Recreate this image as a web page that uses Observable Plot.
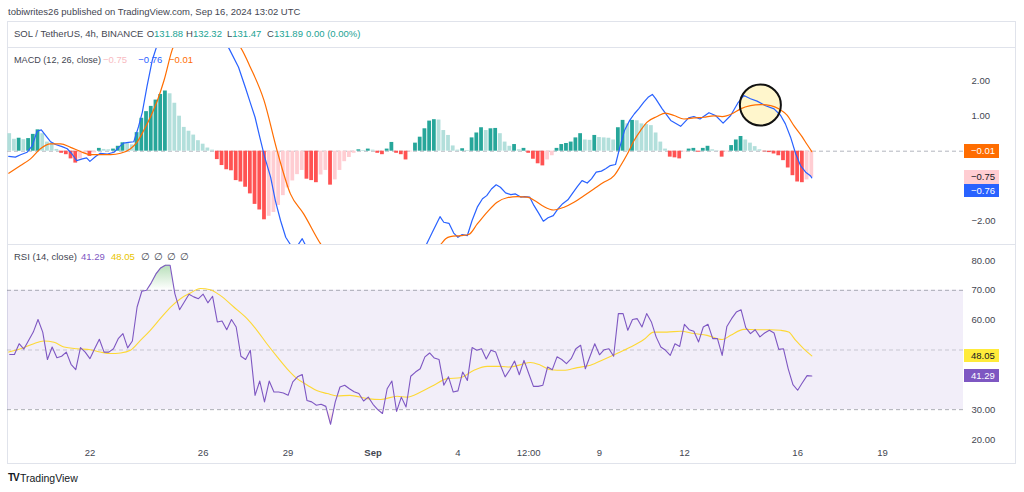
<!DOCTYPE html>
<html>
<head>
<meta charset="utf-8">
<script src="https://cdn.jsdelivr.net/npm/d3@7"></script>
<script src="https://cdn.jsdelivr.net/npm/@observablehq/plot@0.6"></script>
<style>
  html,body{margin:0;padding:0;background:#fff;}
  #root{position:relative;width:1024px;height:492px;overflow:hidden;background:#fff;font-family:"Liberation Sans",Arial,sans-serif;}
  .t{position:absolute;white-space:nowrap;font-size:9.5px;line-height:12px;height:12px;color:#434651;}
  .sep{position:absolute;background:#e0e3eb;}
  .box{position:absolute;height:13px;line-height:13px;font-size:9.5px;padding-left:7px;box-sizing:border-box;white-space:nowrap;}
  .pane{position:absolute;}
</style>
</head>
<body>
<div id="root"></div>
<script>
// ---------------- DATA ----------------
const anchorISO = "2024-08-22T00:00:00Z";   // candle index k = 0
const candleHours = 4;
const firstCandle = -17;                     // k of first visible candle
const xDomainISO = ["2024-08-19T02:08:00Z", "2024-09-21T20:36:00Z"];

// MACD histogram, one value per 4h candle, k = -17 .. 153
const histogram = [
  0.50, 0.34, 0.37, 0.33, 0.36, 0.48, 0.61, 0.50, 0.26, 0.24,
  0.05, -0.06, -0.10, -0.22, -0.34, -0.22, -0.06, -0.15, -0.05, 0.08,
  0.05, 0.04, 0.06, 0.14, 0.24, 0.22, 0.18, 0.53, 0.94, 1.13,
  1.28, 1.46, 1.62, 1.72, 1.64, 1.37, 1.00, 0.68, 0.57, 0.46,
  0.30, 0.20, 0.09, 0.03, -0.24, -0.41, -0.53, -0.56, -0.84, -0.88,
  -1.03, -1.22, -1.52, -1.68, -1.96, -1.86, -1.75, -1.55, -1.27, -1.05,
  -0.85, -0.67, -0.55, -0.80, -0.84, -0.90, -0.68, -0.55, -0.97, -0.82,
  -0.55, -0.30, -0.18, -0.06, 0.04, 0.02, 0.06, 0.03, -0.06, -0.10,
  0.06, 0.25, -0.06, -0.10, -0.25, -0.02, 0.23, 0.40, 0.64, 0.86,
  0.90, 0.89, 0.59, 0.45, 0.15, 0.03, 0.07, 0.02, 0.38, 0.52,
  0.67, 0.59, 0.64, 0.65, 0.50, 0.26, 0.14, 0.19, 0.04, 0.08,
  -0.06, -0.23, -0.36, -0.42, -0.25, -0.13, 0.08, 0.19, 0.22, 0.26,
  0.38, 0.50, 0.32, 0.31, 0.45, 0.39, 0.38, 0.37, 0.32, 0.67,
  0.88, 0.78, 0.88, 0.87, 0.78, 0.76, 0.73, 0.52, 0.26, 0.06,
  -0.17, -0.19, -0.22, -0.02, 0.06, 0.08, -0.03, 0.08, 0.14, 0.04,
  0.01, -0.17, -0.02, 0.16, 0.32, 0.42, 0.32, 0.23, 0.13, 0.04,
  -0.02, -0.04, -0.08, -0.13, -0.27, -0.48, -0.70, -0.88, -0.90, -0.82,
  -0.75
];

// MACD line (12, 26) vertices [k, value]; values beyond the pane are estimates
const macdPoints = [
  [-17.2,-0.15],[-15.8,-0.17],[-14.7,-0.10],[-13.3,-0.03],[-12.2,0.16],[-11.2,0.57],[-10.3,0.61],
  [-9.4,0.45],[-8.4,0.28],[-7.3,0.19],[-5.9,0.13],[-4.8,0.07],[-3.8,-0.08],[-2.8,-0.27],[-1.6,-0.22],
  [-0.7,-0.19],[0,-0.29],[1.2,-0.15],[2.2,-0.06],[3.7,-0.08],[5.1,-0.03],[6.1,0.11],[7.1,0.23],
  [8.2,0.25],[9.3,0.27],[10.3,0.70],[11.1,1.11],[12.1,1.85],[13.2,2.59],[14.1,2.97],
  [17,3.9],[22,4.0],[26,3.5],[29.5,2.93],[31.5,2.40],[33,1.80],[34,1.38],[35,0.97],[36,0.40],
  [37,-0.15],[38.3,-0.74],[39.3,-1.41],[40.4,-1.98],[41.5,-2.46],[42.5,-2.67],[44,-2.70],[45,-2.50],
  [45.7,-2.69],[50,-3.4],[60,-3.5],[68,-3.1],
  [71.3,-2.67],[72.6,-2.31],[74.2,-1.87],[75.0,-2.03],[76.1,-2.06],[77.1,-2.34],[78.0,-2.46],
  [78.9,-2.38],[80.0,-2.41],[81.0,-1.98],[82.1,-1.60],[83.2,-1.36],[84.1,-1.27],[85.1,-1.08],
  [86.1,-0.96],[87.0,-1.03],[88.1,-1.19],[89.2,-1.24],[90.2,-1.22],[91.3,-1.31],[92.1,-1.30],
  [93.2,-1.31],[94.1,-1.55],[95.2,-1.79],[96.1,-2.00],[97.1,-1.90],[98.2,-1.84],[99.2,-1.65],
  [100.2,-1.50],[101.3,-1.39],[102.2,-1.22],[103.3,-1.01],[104.3,-0.84],[105.4,-0.91],[106.3,-0.79],
  [107.3,-0.60],[108.4,-0.57],[109.3,-0.50],[110.3,-0.41],[111.4,-0.38],[112.3,0.11],[113.3,0.59],
  [114.4,0.88],[115.4,1.07],[116.3,1.21],[117.4,1.40],[118.3,1.54],[119.2,1.62],[119.9,1.50],
  [121.3,1.21],[123.1,0.88],[125.2,0.71],[126.9,0.95],[128.0,0.99],[129.3,0.92],[131.2,1.10],
  [132.6,1.02],[134.2,0.80],[135.8,1.02],[137.3,1.37],[138.6,1.59],[140.0,1.50],[141.4,1.43],
  [143.2,1.30],[145.0,1.21],[146.4,1.02],[147.4,0.78],[148.5,0.40],[149.6,-0.08],[150.6,-0.41],
  [151.7,-0.60],[152.7,-0.70],[153,-0.76]
];

// Signal line (9) vertices [k, value]; values beyond the pane are estimates
const signalPoints = [
  [-17.2,-0.63],[-14.7,-0.41],[-12.6,-0.22],[-10.5,0.07],[-8.4,0.21],[-6.2,0.21],[-4.1,0.11],
  [-2.0,-0.01],[0.1,-0.10],[2.2,-0.10],[4.4,-0.10],[6.5,-0.06],[8.6,0.07],[10.0,0.26],[11.4,0.59],
  [12.8,0.97],[14.3,1.45],[15.7,2.02],[17.4,2.88],[20,3.5],[25,3.7],[29,3.3],[31.9,2.97],[34.0,2.40],
  [36.9,1.45],[39.7,0.0],[42.5,-1.22],[45.3,-1.79],[48.9,-2.65],[55,-3.6],[65,-3.4],[72,-2.9],
  [74.3,-2.67],[75.4,-2.50],[76.4,-2.44],[78.6,-2.41],[80.3,-2.38],[82.1,-2.08],[84.2,-1.74],
  [86.3,-1.46],[88.4,-1.33],[90.6,-1.30],[92.7,-1.31],[94.5,-1.43],[96.2,-1.58],[98.3,-1.68],
  [100.5,-1.60],[102.6,-1.46],[104.7,-1.27],[106.8,-1.08],[108.9,-0.89],[111.1,-0.70],[112.5,-0.41],
  [113.9,-0.08],[115.3,0.30],[116.7,0.59],[118.1,0.83],[120.2,0.99],[122.0,1.09],[123.8,1.02],
  [125.9,0.92],[128.0,0.95],[130.1,0.97],[132.2,1.01],[134.0,0.99],[136.1,1.07],[137.9,1.21],
  [140.0,1.30],[142.1,1.33],[144.3,1.30],[146.0,1.21],[147.8,1.02],[149.2,0.73],[151.0,0.40],
  [152.0,0.19],[153,-0.01]
];

// RSI (14), one value per candle, k = -17 .. 153
const rsiValues = [
  48.5, 48.5, 52.1, 50.3, 53.2, 56.0, 60.2, 56.0, 46.8, 51.0,
  47.4, 47.9, 49.3, 45.2, 43.4, 50.8, 49.3, 47.1, 50.4, 53.6,
  49.3, 49.3, 50.4, 53.8, 55.5, 50.7, 53.0, 64.4, 69.7, 70.0,
  72.5, 75.5, 77.5, 78.4, 78.4, 68.9, 63.5, 66.1, 68.7, 67.8,
  67.2, 68.7, 65.8, 68.0, 59.4, 59.7, 56.8, 60.2, 57.7, 47.9,
  46.8, 49.9, 34.8, 39.6, 32.6, 39.6, 35.9, 35.9, 35.6, 34.8,
  39.3, 41.0, 41.8, 33.1, 32.6, 31.5, 31.8, 31.1, 25.1, 32.6,
  37.6, 38.2, 37.0, 36.0, 35.4, 32.9, 34.2, 31.8, 30.0, 28.7,
  37.0, 39.6, 29.4, 34.2, 30.9, 41.2, 42.6, 43.7, 47.7, 49.0,
  47.3, 46.8, 38.2, 41.0, 35.9, 36.3, 42.6, 39.8, 50.8, 49.9,
  50.4, 47.0, 49.9, 49.3, 44.9, 41.0, 43.4, 46.3, 41.7, 46.5,
  42.1, 37.8, 37.8, 38.2, 44.3, 43.4, 47.7, 46.8, 45.4, 47.1,
  50.4, 51.6, 43.7, 47.9, 52.1, 48.4, 50.1, 50.4, 47.9, 62.2,
  62.2, 56.6, 60.2, 60.5, 57.7, 62.2, 59.4, 54.4, 51.0, 49.9,
  48.2, 52.1, 51.2, 58.6, 56.8, 56.3, 52.7, 57.7, 58.6, 53.8,
  53.8, 48.2, 57.9, 60.5, 62.7, 63.5, 57.5, 55.5, 56.8, 54.4,
  55.7, 56.6, 55.7, 50.2, 50.4, 43.7, 38.4, 36.5, 39.0, 41.4,
  41.29
];

// RSI-based moving average vertices [k, value]
const rsiMaPoints = [
  [-17.2,49.3],[-14.7,50.4],[-11.9,52.1],[-9.8,53.0],[-7.6,52.6],[-5.5,51.0],[-2.7,50.4],[0.1,50.1],
  [2.2,49.3],[4.4,48.8],[6.5,49.0],[8.6,49.9],[10.7,53.2],[12.8,56.6],[14.9,60.5],[17.1,64.4],
  [19.2,67.2],[21.3,69.1],[23.4,70.6],[25.5,70.2],[27.6,68.3],[30.5,64.4],[33.3,60.5],[35.4,56.6],
  [37.5,52.1],[39.7,47.7],[41.8,43.7],[43.9,40.4],[46.1,38.2],[48.2,36.3],[50.3,35.4],[52.4,34.6],
  [55.1,34.8],[58.8,33.7],[61.6,33.4],[65.1,34.5],[67.2,34.2],[70.1,35.9],[72.9,38.2],[75.7,40.4],
  [78.5,40.7],[81.4,43.2],[84.2,44.5],[87.0,44.5],[89.1,44.3],[91.3,45.1],[93.4,45.8],[95.5,44.9],
  [97.6,43.4],[100.4,43.2],[103.3,44.1],[106.1,44.9],[108.9,46.8],[111.7,48.8],[114.6,51.0],
  [117.4,53.5],[119.5,56.0],[122.3,56.0],[125.2,56.3],[128.0,55.5],[130.8,54.9],[134.0,53.5],
  [135.8,54.9],[138.6,56.9],[141.4,56.8],[144.3,56.8],[146.4,56.6],[148.1,56.0],[149.6,53.2],
  [151.3,50.4],[153,48.05]
];

// annotation circle on the MACD pane [k, value]
const circled = [[142.1, 1.32]];

const rsiBand = [30, 70];
const rsiLevels = [70, 50, 30];
const macdTicks = [2, 1, -2];
// 40.00 and 50.00 sit under the RSI / MA value boxes on the reference
const rsiTicks = [20, 30, 60, 70, 80];
const xTickISO = ["2024-08-22T00:00:00Z","2024-08-26T00:00:00Z","2024-08-29T00:00:00Z","2024-09-04T00:00:00Z",
                  "2024-09-06T12:00:00Z","2024-09-09T00:00:00Z","2024-09-12T00:00:00Z","2024-09-16T00:00:00Z","2024-09-19T00:00:00Z"];
const xTickLabels = ["22","26","29","4","12:00","9","12","16","19"];
const monthTickISO = ["2024-09-01T00:00:00Z"];
const monthTickLabels = ["Sep"];

const headerTitle = "tobiwrites26 published on TradingView.com, Sep 16, 2024 13:02 UTC";
const symbolText = "SOL / TetherUS, 4h, BINANCE";
const ohlcLabels = ["O", "H", "L", "C"];
const ohlcValues = ["131.88", "132.32", "131.47", "131.89"];
const changeText = "0.00 (0.00%)";
const macdTitle = "MACD (12, 26, close)";
const rsiTitle = "RSI (14, close)";
const rsiExtras = ["∅", "∅", "∅", "∅"];

// ---------------- STYLE ----------------
const COL = {
  up: "#26A69A", upFade: "#B2DFDB", downFade: "#FFCDD2", down: "#FF5252",
  macd: "#2962FF", signal: "#FF6D00", rsi: "#7E57C2", ma: "#FDD835",
  green: "#22A394", text: "#434651", grid: "#e0e3eb"
};
const fmt2 = d3.format(".2f");

// ---------------- BUILD ----------------
const root = document.getElementById("root");
const t0 = Date.parse(anchorISO);
const tk = k => new Date(t0 + k * candleHours * 3600e3);
const xDomain = xDomainISO.map(s => new Date(s));

const histData = histogram.map((v, i) => {
  const k = firstCandle + i;
  const rising = i > 0 && v > histogram[i - 1];
  return { x1: tk(k - 0.4), x2: tk(k + 0.4), v,
           c: v >= 0 ? (rising ? COL.up : COL.upFade) : (rising ? COL.downFade : COL.down) };
});
const toPts = arr => arr.map(([k, v]) => ({ t: tk(k), v }));
const macdData = toPts(macdPoints);
const signalData = toPts(signalPoints);
const circData = toPts(circled);
const rsiData = rsiValues.map((v, i) => ({ t: tk(firstCandle + i), v }));
const maData = toPts(rsiMaPoints);

const plotStyle = { fontFamily: "Liberation Sans, Arial, sans-serif", fontSize: "9.5px", color: COL.text, background: "transparent", overflow: "visible" };

// MACD pane
const macdPlot = Plot.plot({
  width: 1009, height: 196, marginTop: 0, marginBottom: 0, marginLeft: 0, marginRight: 53,
  x: { type: "utc", domain: xDomain, axis: null },
  y: { domain: [-2.666, 2.934] },
  color: { type: "identity" },
  style: plotStyle,
  marks: [
    Plot.ruleY([0], { stroke: "#B2B5BE", strokeDasharray: "4,3", strokeWidth: 1 }),
    Plot.rect(histData, { x1: "x1", x2: "x2", y1: 0, y2: "v", fill: "c" }),
    Plot.dot(circData, { x: "t", y: "v", r: 20.5, fill: "#FFF6CC", stroke: "none" }),
    Plot.line(macdData, { x: "t", y: "v", stroke: COL.macd, strokeWidth: 1.2, clip: true }),
    Plot.line(signalData, { x: "t", y: "v", stroke: COL.signal, strokeWidth: 1.2, curve: "monotone-x", clip: true }),
    Plot.dot(circData, { x: "t", y: "v", r: 20.5, fill: "none", stroke: "#111", strokeWidth: 2 }),
    Plot.axisY({ anchor: "right", ticks: macdTicks, tickSize: 0, tickPadding: 8, tickFormat: fmt2, label: null })
  ]
});

// RSI pane
const labelMap = new Map(xTickISO.map((s, i) => [Date.parse(s), xTickLabels[i]]));
const monthMap = new Map(monthTickISO.map((s, i) => [Date.parse(s), monthTickLabels[i]]));
const rsiPlot = Plot.plot({
  width: 1009, height: 220, marginTop: 0, marginBottom: 20, marginLeft: 0, marginRight: 53,
  x: { type: "utc", domain: xDomain },
  y: { domain: [18.32, 85.36] },
  style: plotStyle,
  marks: [
    Plot.areaY(xDomain, { x: d => d, y1: rsiBand[0], y2: rsiBand[1], fill: COL.rsi, fillOpacity: 0.1 }),
    Plot.ruleY([rsiLevels[1]], { stroke: "#787B86", strokeOpacity: 0.35, strokeDasharray: "4,3" }),
    Plot.ruleY([rsiLevels[0], rsiLevels[2]], { stroke: "#787B86", strokeOpacity: 0.6, strokeDasharray: "4,3" }),
    Plot.areaY(rsiData, { x: "t", y1: rsiLevels[0], y2: d => Math.max(d.v, rsiLevels[0]), fill: "url(#obGrad)" }),
    Plot.areaY(rsiData, { x: "t", y1: d => Math.min(d.v, rsiLevels[2]), y2: rsiLevels[2], fill: "url(#osGrad)" }),
    Plot.line(maData, { x: "t", y: "v", stroke: COL.ma, strokeWidth: 1.1, curve: "monotone-x" }),
    Plot.line(rsiData, { x: "t", y: "v", stroke: COL.rsi, strokeWidth: 1.1 }),
    Plot.axisY({ anchor: "right", ticks: rsiTicks, tickSize: 0, tickPadding: 8, tickFormat: fmt2, label: null }),
    Plot.axisX({ ticks: xTickISO.map(s => new Date(s)), tickFormat: d => labelMap.get(+d), tickSize: 0, tickPadding: 5, label: null }),
    Plot.axisX({ ticks: monthTickISO.map(s => new Date(s)), tickFormat: d => monthMap.get(+d), tickSize: 0, tickPadding: 5, fontWeight: "bold", label: null })
  ]
});

// gradients for the overbought / oversold fills
{
  const defs = d3.select(rsiPlot).insert("defs", ":first-child");
  const g1 = defs.append("linearGradient").attr("id", "obGrad").attr("x1", 0).attr("y1", 0).attr("x2", 0).attr("y2", 1);
  g1.append("stop").attr("offset", "0%").attr("stop-color", "#4CAF50").attr("stop-opacity", 0.4);
  g1.append("stop").attr("offset", "100%").attr("stop-color", "#4CAF50").attr("stop-opacity", 0);
  const g2 = defs.append("linearGradient").attr("id", "osGrad").attr("x1", 0).attr("y1", 1).attr("x2", 0).attr("y2", 0);
  g2.append("stop").attr("offset", "0%").attr("stop-color", "#FF5252").attr("stop-opacity", 0.3);
  g2.append("stop").attr("offset", "100%").attr("stop-color", "#FF5252").attr("stop-opacity", 0);
}

// ---------------- LAYOUT ----------------
function el(cls, css, txt) {
  const d = document.createElement("div");
  d.className = cls;
  Object.assign(d.style, css);
  if (txt != null) d.textContent = txt;
  root.appendChild(d);
  return d;
}
function text(txt, left, cy, color, extra) {
  return el("t", Object.assign({ left: left + "px", top: (cy - 6) + "px", color: color || COL.text }, extra || {}), txt);
}

// frame and pane separators
el("sep", { left: "7px", top: "21px", width: "1009px", height: "443px", background: "none", border: "1px solid " + COL.grid, boxSizing: "border-box" });

const macdWrap = el("pane", { left: "7px", top: "48px" });
macdWrap.appendChild(macdPlot);
const rsiWrap = el("pane", { left: "7px", top: "244px" });
rsiWrap.appendChild(rsiPlot);

el("sep", { left: "7px", top: "47px", width: "1009px", height: "1px" });
el("sep", { left: "7px", top: "244px", width: "1009px", height: "1px" });

// header texts
text(headerTitle, 8, 12, "#434651");
text(symbolText, 14, 33.5, "#434651");
const ohlcX = [146.7, 186, 227, 267];
ohlcLabels.forEach((l, i) => {
  const d = text(l, ohlcX[i], 33.5, "#434651");
  const s = document.createElement("span");
  s.style.color = COL.green;
  s.textContent = ohlcValues[i];
  d.appendChild(s);
});
text(changeText, 306, 33.5, COL.green);

// MACD legend
const last = a => a[a.length - 1];
const histLast = last(histogram), macdLast = last(macdPoints)[1], sigLast = last(signalPoints)[1];
text(macdTitle, 14, 60, "#434651", { fontSize: "9.1px" });
text(fmt2(histLast), 103, 60, "#F8BBC2");
text(fmt2(macdLast), 138.3, 60, COL.macd);
text(fmt2(sigLast), 169, 60, COL.signal);

// RSI legend
const rsiLast = last(rsiValues), maLast = last(rsiMaPoints)[1];
text(rsiTitle, 14, 256.7, "#434651");
text(fmt2(rsiLast), 81, 256.7, COL.rsi);
text(fmt2(maLast), 111, 256.7, "#E8C400");
const extraX = [140.7, 154, 166.7, 180];
rsiExtras.forEach((s, i) => text(s, extraX[i], 256.7, "#434651"));

// price boxes on the right axis
function boxes(plot, top, items) {
  const ys = plot.scale("y");
  const placed = items.map(it => ({ ...it, cy: top + ys.apply(it.v) })).sort((a, b) => a.cy - b.cy);
  const H = 13.3;
  for (let i = 1; i < placed.length; i++) {
    if (placed[i].cy - placed[i - 1].cy < H) placed[i].cy = placed[i - 1].cy + H;
  }
  placed.forEach(p => {
    el("box", { left: "964px", width: "35px", top: (p.cy - H / 2) + "px", height: H + "px", lineHeight: H + "px", background: p.bg, color: p.fg }, fmt2(p.v));
  });
}
boxes(macdPlot, 48, [
  { v: sigLast, bg: "#FF6D00", fg: "#fff" },
  { v: histLast, bg: "#FFCDD2", fg: "#131722" },
  { v: macdLast, bg: "#2962FF", fg: "#fff" }
]);
boxes(rsiPlot, 244, [
  { v: maLast, bg: "#FFEB3B", fg: "#131722" },
  { v: rsiLast, bg: "#7E57C2", fg: "#fff" }
]);

// TradingView footer mark
text("TV", 8, 478, "#131722", { fontWeight: "bold", fontSize: "10px", letterSpacing: "-1px" });
text("TradingView", 20, 478, "#131722", { fontSize: "10.5px" });
</script>
</body>
</html>
